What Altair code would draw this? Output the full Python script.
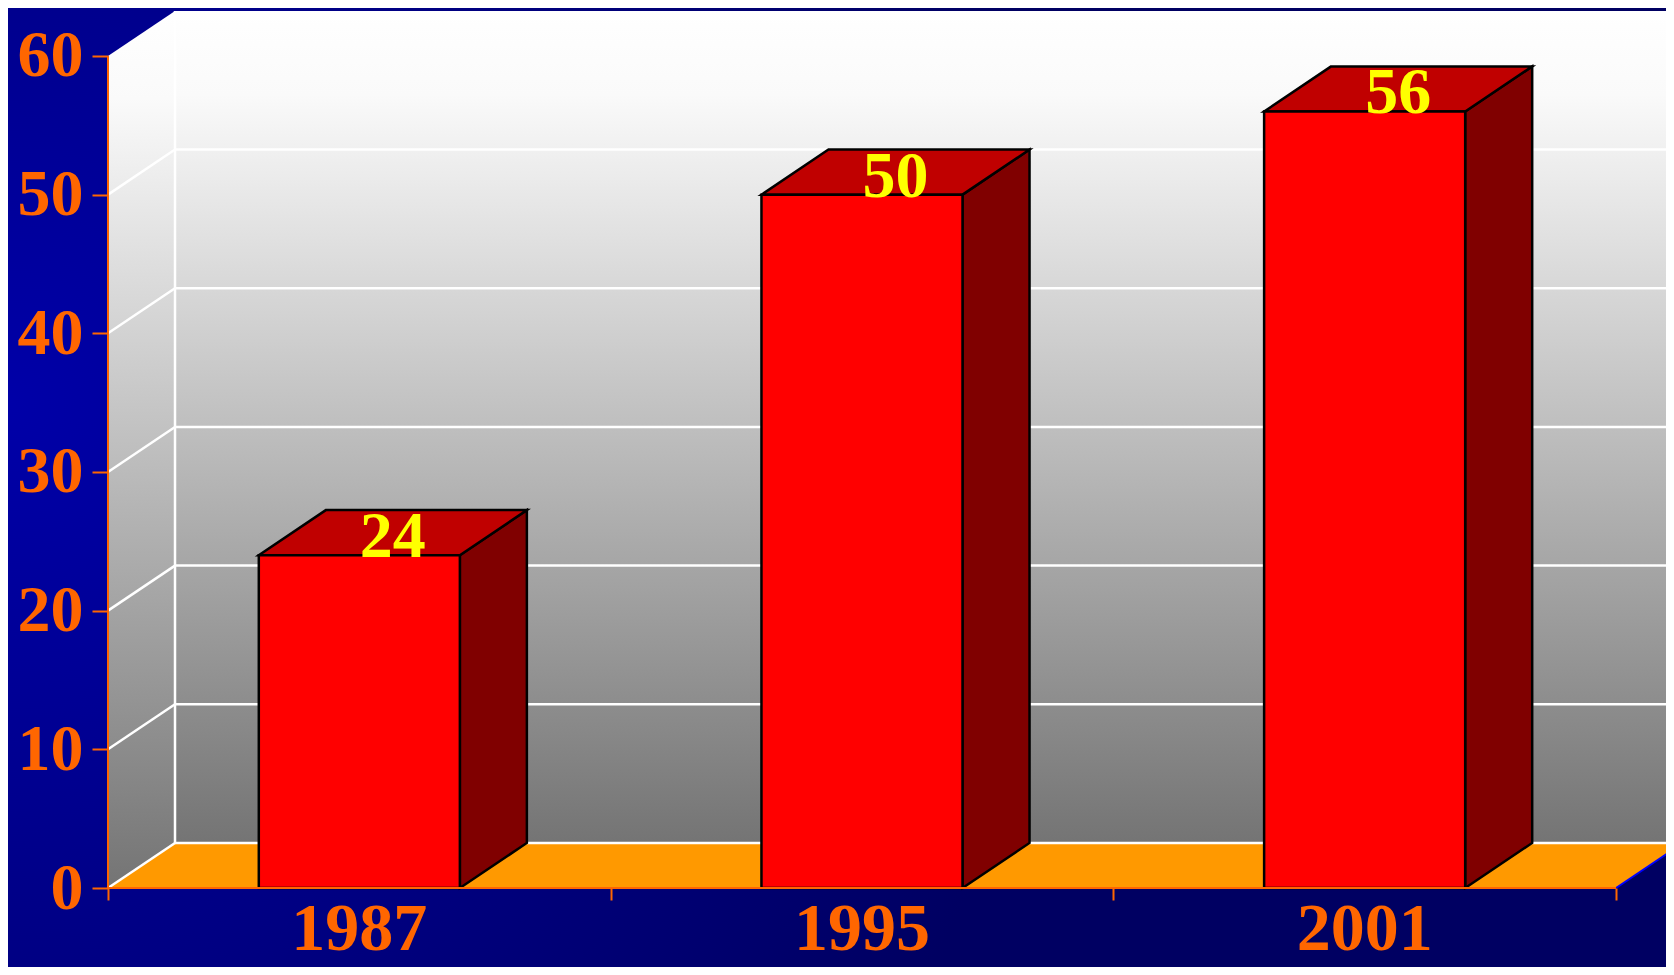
import altair as alt
import pandas as pd

# ---- data ----
YEARS = ["1987", "1995", "2001"]
VALUES = [24, 50, 56]
Y_TICKS = [0, 10, 20, 30, 40, 50, 60]
X_TICKS = [0, 1, 2, 3]
GRID_LEVELS = [0, 10, 20, 30, 40, 50]

# ---- 3D geometry (in data units) ----
DX = 0.1333      # depth offset along x (band units)
DY = 3.25        # depth offset along y (value units)
HALF = 0.2       # half bar width (band units)
YMAX = 63.46
XMAX = 3.0995
YEAR_Y = -5.45

ORANGE = "#FF6600"
SERIF = "Liberation Serif"

SX = alt.Scale(domain=[0, XMAX], nice=False, zero=False)
SY = alt.Scale(domain=[0, YMAX], nice=False, zero=False)
AXX = alt.Axis(values=X_TICKS, labels=False, title=None, domain=False, grid=False,
               tickColor=ORANGE, tickSize=12, tickWidth=2, zindex=2)
AXY = alt.Axis(values=Y_TICKS, title=None, domain=False, grid=False,
               tickColor=ORANGE, tickSize=16, tickWidth=2, labelColor=ORANGE,
               labelFont=SERIF, labelFontWeight="bold", labelFontSize=66,
               labelPadding=9, zindex=2)


def X(f):
    return alt.X(f, type="quantitative", scale=SX, axis=AXX)


def Y(f):
    return alt.Y(f, type="quantitative", scale=SY, axis=AXY)


wall_grad = alt.Gradient(
    gradient="linear", x1=0, x2=0, y1=0, y2=1,
    stops=[alt.GradientStop(offset=0, color="#FFFFFF"),
           alt.GradientStop(offset=0.1, color="#FAFAFA"),
           alt.GradientStop(offset=1, color="#747474")])
bg_grad = alt.RadialGradient(
    gradient="radial", x1=0, y1=0.45, r1=0, x2=0, y2=0.45, r2=0.65,
    stops=[alt.GradientStop(offset=0, color="#0000A8"),
           alt.GradientStop(offset=1, color="#000062")])

dummy = pd.DataFrame({"a": [0]})
background = alt.Chart(dummy).mark_rect(fill=bg_grad).encode(
    x=alt.value(-100), x2=alt.value(1560), y=alt.value(-5), y2=alt.value(965))

# walls & floor
back_df = pd.DataFrame({"x": [DX, XMAX + 0.2], "y": [DY, DY], "y2": [60 + DY, 60 + DY]})
back = alt.Chart(back_df).mark_area(orient="vertical", fill=wall_grad).encode(
    x=X("x"), y=Y("y"), y2="y2")
left_df = pd.DataFrame({"x": [0, DX], "y": [0, DY], "y2": [60, 60 + DY]})
left = alt.Chart(left_df).mark_area(orient="vertical", fill=wall_grad).encode(
    x=X("x"), y=Y("y"), y2="y2")
floor_df = pd.DataFrame({"y": [0, DY], "x": [0, DX], "x2": [3, 3 + DX]})
floor = alt.Chart(floor_df).mark_area(orient="horizontal", fill="#FF9900").encode(
    y=Y("y"), x=X("x"), x2="x2")

grid_back_df = pd.DataFrame({"y": [k + DY for k in GRID_LEVELS],
                             "x": [DX] * len(GRID_LEVELS),
                             "x2": [XMAX + 0.2] * len(GRID_LEVELS)})
grid_back = alt.Chart(grid_back_df).mark_rule(color="white", strokeWidth=2.5).encode(
    x=X("x"), x2="x2", y=Y("y"))
grid_side_df = pd.DataFrame({"x": [0] * len(GRID_LEVELS), "x2": [DX] * len(GRID_LEVELS),
                             "y": GRID_LEVELS, "y2": [k + DY for k in GRID_LEVELS]})
grid_side = alt.Chart(grid_side_df).mark_rule(color="white", strokeWidth=2.5).encode(
    x=X("x"), x2="x2", y=Y("y"), y2="y2")
corner_df = pd.DataFrame({"x": [DX], "y": [DY], "y2": [60 + DY]})
corner = alt.Chart(corner_df).mark_rule(color="white", strokeWidth=2.5).encode(
    x=X("x"), y=Y("y"), y2="y2")

# bars
front_rows, side_rows, top_rows, lab_rows, year_rows = [], [], [], [], []
for i, (yr, v) in enumerate(zip(YEARS, VALUES)):
    x0, x1 = i + 0.5 - HALF, i + 0.5 + HALF
    front_rows.append({"year": yr, "x": x0, "x2": x1, "y": 0, "y2": v})
    side_rows += [{"year": yr, "x": x1, "y": 0, "y2": v},
                  {"year": yr, "x": x1 + DX, "y": DY, "y2": v + DY}]
    top_rows += [{"year": yr, "y": v, "x": x0, "x2": x1},
                 {"year": yr, "y": v + DY, "x": x0 + DX, "x2": x1 + DX}]
    lab_rows.append({"x": i + 0.5 + DX / 2, "y": v, "t": str(v)})
    year_rows.append({"x": i + 0.5, "y": YEAR_Y, "t": yr})

side = alt.Chart(pd.DataFrame(side_rows)).mark_area(
    orient="vertical", fill="#800000", stroke="black", strokeWidth=2.5, strokeJoin="miter").encode(
    x=X("x"), y=Y("y"), y2="y2", detail="year:N")
top = alt.Chart(pd.DataFrame(top_rows)).mark_area(
    orient="horizontal", fill="#C00000", stroke="black", strokeWidth=2.5, strokeJoin="miter").encode(
    y=Y("y"), x=X("x"), x2="x2", detail="year:N")
front = alt.Chart(pd.DataFrame(front_rows)).mark_rect(
    fill="#FF0000", stroke="black", strokeWidth=2.5).encode(
    x=X("x"), x2="x2", y=Y("y"), y2="y2")

labels = alt.Chart(pd.DataFrame(lab_rows)).mark_text(
    font=SERIF, fontWeight="bold", fontSize=66, color="#FFFF00",
    baseline="alphabetic", align="center", dy=2).encode(
    x=X("x"), y=Y("y"), text="t:N")
years = alt.Chart(pd.DataFrame(year_rows)).mark_text(
    font=SERIF, fontWeight="bold", fontSize=68, color=ORANGE,
    baseline="bottom", align="center").encode(
    x=X("x"), y=Y("y"), text="t:N")

# axis lines
yaxis_df = pd.DataFrame({"x": [0], "y": [0], "y2": [60]})
yaxis = alt.Chart(yaxis_df).mark_rule(color=ORANGE, strokeWidth=2).encode(
    x=X("x"), y=Y("y"), y2="y2")
xaxis_df = pd.DataFrame({"x": [0], "x2": [3], "y": [0]})
xaxis = alt.Chart(xaxis_df).mark_rule(color=ORANGE, strokeWidth=2).encode(
    x=X("x"), x2="x2", y=Y("y"))
edge_df = pd.DataFrame({"x": [3], "x2": [3 + DX], "y": [0], "y2": [DY]})
edge = alt.Chart(edge_df).mark_rule(color="#0000FF", strokeWidth=2).encode(
    x=X("x"), x2="x2", y=Y("y"), y2="y2")

chart = alt.layer(
    background, back, left, floor, grid_back, grid_side, corner,
    side, top, front, labels, edge, xaxis, yaxis, years
).properties(
    width=1558, height=880,
    padding={"left": 100, "top": 0, "right": 0, "bottom": 79},
    autosize=alt.AutoSizeParams(type="none"),
    background="#000066",
).configure_view(stroke=None)

chart.save("out.html", embed_options={"renderer": "svg", "actions": False})
